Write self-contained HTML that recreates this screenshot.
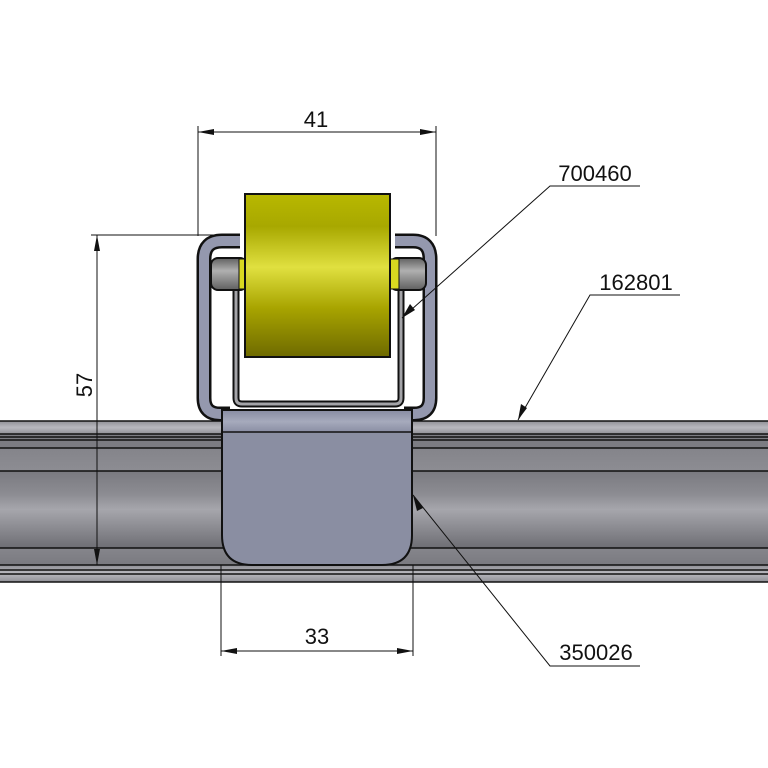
<!DOCTYPE html>
<html><head><style>html,body{margin:0;padding:0;background:#fff}svg{display:block}</style></head>
<body>
<svg width="768" height="768" viewBox="0 0 768 768" xmlns="http://www.w3.org/2000/svg">
<defs>
<linearGradient id="rail" x1="0" y1="0" x2="0" y2="1">
<stop offset="0" stop-color="#7a7a80"/><stop offset="0.3" stop-color="#8c8c92"/><stop offset="0.5" stop-color="#a6a6ac"/><stop offset="1" stop-color="#6e6e74"/>
</linearGradient>
<linearGradient id="railtop" x1="0" y1="0" x2="0" y2="1">
<stop offset="0" stop-color="#909096"/><stop offset="0.5" stop-color="#b8b8be"/><stop offset="1" stop-color="#909096"/>
</linearGradient>
<linearGradient id="yel" x1="0" y1="0" x2="0" y2="1">
<stop offset="0" stop-color="#b8b800"/><stop offset="0.2" stop-color="#a8a800"/><stop offset="0.45" stop-color="#e0e040"/><stop offset="0.7" stop-color="#a8a400"/><stop offset="1" stop-color="#6e6a00"/>
</linearGradient>
<linearGradient id="axle" x1="0" y1="0" x2="0" y2="1">
<stop offset="0" stop-color="#606060"/><stop offset="0.4" stop-color="#b0b0b0"/><stop offset="1" stop-color="#606060"/>
</linearGradient>
<linearGradient id="plate" x1="0" y1="0" x2="0" y2="1">
<stop offset="0" stop-color="#8a8ea4"/><stop offset="0.5" stop-color="#a6aabc"/><stop offset="1" stop-color="#8a8ea4"/>
</linearGradient>
</defs>

<!-- rail -->
<rect x="0" y="421" width="768" height="161" fill="url(#rail)"/>
<rect x="0" y="421" width="768" height="13" fill="url(#railtop)"/>
<rect x="0" y="434" width="768" height="14" fill="#7c7c82"/>
<rect x="0" y="471" width="768" height="77" fill="url(#rail)"/>
<rect x="0" y="565" width="768" height="17" fill="url(#railtop)"/>
<g stroke="#111" stroke-width="1.6">
<line x1="0" y1="421" x2="768" y2="421"/>
<line x1="0" y1="434" x2="768" y2="434"/>
<line x1="0" y1="437" x2="768" y2="437"/>
<line x1="0" y1="440" x2="768" y2="440"/>
<line x1="0" y1="448" x2="768" y2="448"/>
<line x1="0" y1="471" x2="768" y2="471"/>
<line x1="0" y1="548" x2="768" y2="548"/>
<line x1="0" y1="565" x2="768" y2="565"/>
<line x1="0" y1="570" x2="768" y2="570"/>
<line x1="0" y1="574" x2="768" y2="574"/>
<line x1="0" y1="582" x2="768" y2="582"/>
</g>

<!-- outer bracket -->
<path d="M240,241 L222,241 Q204,241 204,259 L204,398 Q204,414 220,414 L230,414" fill="none" stroke="#111" stroke-width="15"/>
<path d="M240,241 L222,241 Q204,241 204,259 L204,398 Q204,414 220,414 L230,414" fill="none" stroke="#9498ae" stroke-width="10"/>
<path d="M395,241 L413,241 Q430,241 430,259 L430,398 Q430,414 414,414 L404,414" fill="none" stroke="#111" stroke-width="15"/>
<path d="M395,241 L413,241 Q430,241 430,259 L430,398 Q430,414 414,414 L404,414" fill="none" stroke="#9498ae" stroke-width="10"/>

<!-- inner frame -->
<path d="M236,285 L236,398 Q236,404 242,404 L395,404 Q401,404 401,398 L401,285" fill="none" stroke="#111" stroke-width="7"/>
<path d="M236,285 L236,398 Q236,404 242,404 L395,404 Q401,404 401,398 L401,285" fill="none" stroke="#a4a4a8" stroke-width="3"/>

<!-- axles -->
<rect x="211" y="258" width="36" height="32" rx="7" fill="url(#axle)" stroke="#111" stroke-width="2"/>
<rect x="390" y="258" width="36" height="32" rx="7" fill="url(#axle)" stroke="#111" stroke-width="2"/>
<rect x="239" y="259" width="9" height="30" fill="#d8d820" stroke="#111" stroke-width="1"/>
<rect x="390" y="259" width="9" height="30" fill="#d8d820" stroke="#111" stroke-width="1"/>

<!-- roller -->
<rect x="245" y="194" width="145" height="163" fill="url(#yel)" stroke="#111" stroke-width="2"/>

<!-- plate -->
<path d="M222,410 L412,410 L412,535 Q412,565 382,565 L252,565 Q222,565 222,535 Z" fill="#8a8ea2" stroke="#111" stroke-width="2"/>
<rect x="223" y="411" width="188" height="21" fill="url(#plate)"/>
<line x1="222" y1="432" x2="412" y2="432" stroke="#111" stroke-width="1.6"/>

<!-- dimensions -->
<g stroke="#111" stroke-width="1" fill="none">
<line x1="198" y1="126" x2="198" y2="236"/>
<line x1="436" y1="126" x2="436" y2="236"/>
<line x1="198" y1="132" x2="436" y2="132"/>
<line x1="91" y1="235" x2="232" y2="235"/>
<line x1="97" y1="235" x2="97" y2="565"/>
<line x1="221" y1="565" x2="221" y2="656"/>
<line x1="413" y1="565" x2="413" y2="656"/>
<line x1="221" y1="651" x2="413" y2="651"/>
<polyline points="640,186 550,186 402,318"/>
<polyline points="680,295 590,295 518,420"/>
<polyline points="640,666 550,666 413,495"/>
</g>
<g fill="#111">
<polygon points="198,132 214,129 214,135"/>
<polygon points="436,132 420,129 420,135"/>
<polygon points="97,235 94,251 100,251"/>
<polygon points="97,565 94,549 100,549"/>
<polygon points="221,651 237,648 237,654"/>
<polygon points="413,651 397,648 397,654"/>
<polygon points="402,318 410,304 415,310"/>
<polygon points="518,420 521,404 527,408"/>
<polygon points="413,495 423,508 417,511"/>
</g>
<g font-family="Liberation Sans, sans-serif" font-size="22" fill="#111">
<text x="316" y="127" text-anchor="middle">41</text>
<text x="317" y="644" text-anchor="middle">33</text>
<text x="595" y="181" text-anchor="middle">700460</text>
<text x="636" y="290" text-anchor="middle">162801</text>
<text x="596" y="660" text-anchor="middle">350026</text>
<text x="0" y="0" text-anchor="middle" transform="translate(92,385) rotate(-90)">57</text>
</g>
</svg>
</body></html>
